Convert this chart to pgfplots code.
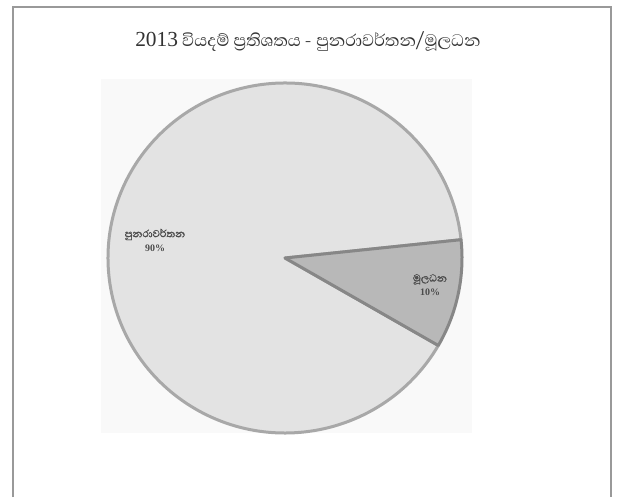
\documentclass[border=0pt]{standalone}
\usepackage{fontspec}
\setmainfont{Liberation Serif}
\newfontfamily\sinhala[Script=Sinhala]{Abhaya Libre}
\newfontfamily\sinhalalab[Script=Sinhala,FakeBold=1.5]{Abhaya Libre}
\usepackage{pgfplots}
\usepackage{pgfplotstable}
\pgfplotsset{compat=1.18}

% share of 2013 expenditure: recurrent / capital
\pgfplotstableread{
part value
recurrent 90
capital 10
}\piedata

\definecolor{framegray}{gray}{0.6}
\definecolor{bigslice}{gray}{0.89}
\definecolor{smallslice}{gray}{0.72}
\definecolor{edgegray}{gray}{0.66}
\definecolor{labelgray}{gray}{0.3}

\begin{document}
\begin{tikzpicture}
\pgfplotstablegetelem{0}{value}\of\piedata \let\valA\pgfplotsretval
\pgfplotstablegetelem{1}{value}\of\piedata \let\valB\pgfplotsretval
\pgfmathsetmacro\startB{6}
\pgfmathsetmacro\endB{\startB-3.6*\valB}
\pgfmathsetmacro\endA{\startB+3.6*\valA}
\begin{axis}[
    scale only axis,
    width=618bp, height=497bp,
    xmin=0, xmax=618, ymin=0, ymax=497,
    hide axis, clip=false,
]
\fill[white] (axis cs:0,0) rectangle (axis cs:618,497);
\draw[framegray, line width=1.3bp] (axis cs:13,0) -- (axis cs:13,490) -- (axis cs:611,490) -- (axis cs:611,0);
\fill[gray!5] (axis cs:101,64) rectangle (axis cs:472,418);
% recurrent
\filldraw[fill=bigslice, draw=edgegray, line width=3bp, line join=round]
  (axis cs:285,239) -- (axis cs:{285+177*cos(\startB)},{239+175*sin(\startB)})
  arc[start angle=\startB, end angle=\endA, x radius=177bp, y radius=175bp] -- cycle;
% capital
\filldraw[fill=smallslice, draw=edgegray!80!black, line width=3bp, line join=round]
  (axis cs:285,239) -- (axis cs:{285+177*cos(\startB)},{239+175*sin(\startB)})
  arc[start angle=\startB, end angle=\endB, x radius=177bp, y radius=175bp] -- cycle;
\node[labelgray, font=\sinhalalab\fontsize{13}{14}\selectfont, align=center]
  at (axis cs:155,257) {පුනරාවර්තන\\\rmfamily\bfseries\fontsize{10}{12}\selectfont 90\%};
\node[labelgray, font=\sinhalalab\fontsize{13}{14}\selectfont, align=center]
  at (axis cs:430,212) {මූලධන\\\rmfamily\bfseries\fontsize{10}{12}\selectfont 10\%};
\node[black!80, font=\sinhala\fontsize{21.5}{24}\selectfont]
  at (axis cs:308,455) {{\rmfamily 2013} වියදම් ප්‍රතිශතය - පුනරාවර්තන/මූලධන};
\end{axis}
\end{tikzpicture}
\end{document}
